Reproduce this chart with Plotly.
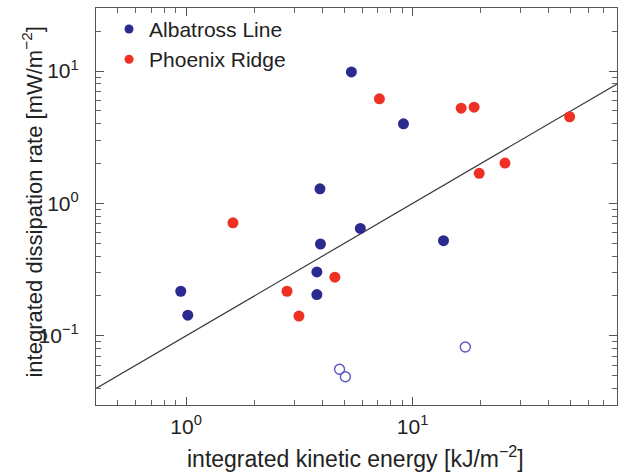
import plotly.graph_objects as go

# Albatross Line (filled)
alb_x = [0.947, 1.017, 5.37, 9.12, 3.90, 5.88, 3.92, 13.7, 3.78, 3.78]
alb_y = [0.217, 0.143, 9.86, 4.0, 1.29, 0.648, 0.494, 0.523, 0.304, 0.205]
# Albatross Line (open)
alb_open_x = [4.76, 5.05, 17.1]
alb_open_y = [0.0558, 0.049, 0.0823]
# Phoenix Ridge
phx_x = [1.61, 7.14, 16.4, 18.7, 49.4, 25.6, 19.7, 2.79, 3.15, 4.54]
phx_y = [0.714, 6.18, 5.25, 5.34, 4.52, 2.02, 1.69, 0.217, 0.141, 0.277]
# reference line y = 0.1 x
line_x = [0.4, 80]
line_y = [0.04, 8]

major_vals = [0.1, 1, 10]
x_major_vals = [1, 10]
tick_text_y = ["10<sup>−1</sup>", "10<sup>0</sup>", "10<sup>1</sup>"]
tick_text_x = ["10<sup>0</sup>", "10<sup>1</sup>"]
minor_vals = [m * d for d in [0.01, 0.1, 1, 10] for m in range(2, 10)]

x_title = "integrated kinetic energy [kJ/m<sup>−2</sup>]"
y_title = "integrated dissipation rate [mW/m<sup>−2</sup>]"

BLUE = "#2b2a8f"
RED = "#ee3124"
OPEN = "#5a56c8"
TXT = "#222222"
FONT = "Liberation Sans, Arial, sans-serif"

fig = go.Figure()
fig.add_trace(go.Scatter(x=line_x, y=line_y, mode="lines",
                         line=dict(color="#3a3a3a", width=1.2), showlegend=False))
fig.add_trace(go.Scatter(x=alb_open_x, y=alb_open_y, mode="markers",
                         marker=dict(size=10, color="rgba(0,0,0,0)",
                                     line=dict(color=OPEN, width=1.4)),
                         showlegend=False))
fig.add_trace(go.Scatter(x=alb_x, y=alb_y, mode="markers",
                         marker=dict(size=11, color=BLUE), showlegend=False))
fig.add_trace(go.Scatter(x=phx_x, y=phx_y, mode="markers",
                         marker=dict(size=11, color=RED), showlegend=False))
# legend entries
fig.add_trace(go.Scatter(x=[None], y=[None], mode="markers", name="Albatross Line",
                         marker=dict(size=9, color=BLUE)))
fig.add_trace(go.Scatter(x=[None], y=[None], mode="markers", name="Phoenix Ridge",
                         marker=dict(size=9, color=RED)))

axis_common = dict(
    type="log", showgrid=False, zeroline=False, automargin=False,
    showline=True, linecolor="#555555", linewidth=1.2, mirror="ticks",
    ticks="inside", ticklen=8, tickcolor="#555555", tickwidth=1,
    tickfont=dict(size=21, color=TXT, family=FONT),
    minor=dict(ticks="inside", ticklen=5, tickcolor="#666666", tickwidth=1,
               tickmode="array", tickvals=minor_vals, showgrid=False),
)

fig.update_xaxes(**axis_common, range=[-0.398, 1.903], tickmode="array",
                 tickvals=x_major_vals, ticktext=tick_text_x,
                 ticklabelstandoff=3)
fig.update_yaxes(**axis_common, range=[-1.523, 1.477], tickmode="array",
                 tickvals=major_vals, ticktext=tick_text_y,
                 ticklabelstandoff=12)

fig.add_annotation(text=x_title, xref="paper", yref="paper", x=0.499, y=0,
                   xanchor="center", yanchor="middle", yshift=-52, showarrow=False,
                   font=dict(size=23, color=TXT, family=FONT))
fig.add_annotation(text=y_title, xref="paper", yref="paper", x=0, y=0.51,
                   xanchor="center", yanchor="middle", xshift=-64, textangle=-90,
                   showarrow=False, font=dict(size=22, color=TXT, family=FONT))

fig.update_layout(
    width=620, height=474,
    margin=dict(l=96, r=3, t=8, b=69),
    paper_bgcolor="white", plot_bgcolor="white",
    font=dict(family=FONT, size=20, color=TXT),
    legend=dict(x=0.025, y=0.998, xanchor="left", yanchor="top",
                bgcolor="rgba(0,0,0,0)", font=dict(size=21, color=TXT),
                tracegroupgap=0, itemsizing="trace"),
)

fig.write_html("out.html", config={"displayModeBar": False},
               post_script="document.body.style.margin='0px';document.body.style.overflow='hidden';")
